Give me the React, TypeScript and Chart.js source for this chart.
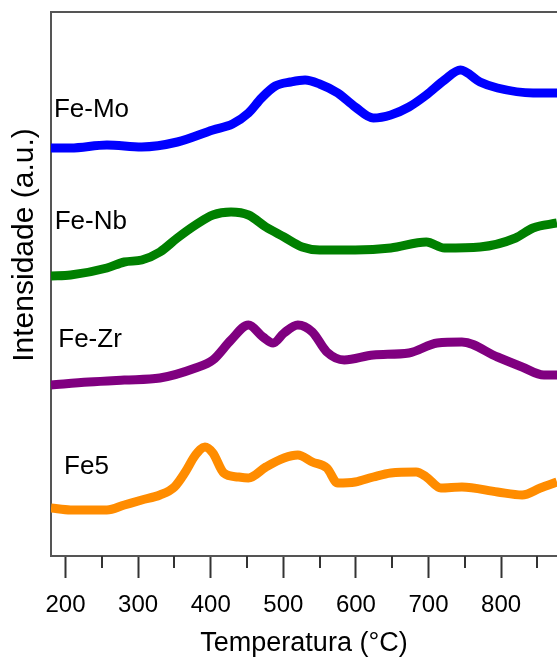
import { useEffect, useRef } from 'react';
import { Chart, registerables } from 'chart.js';

Chart.register(...registerables);

// Temperature (°C) and intensity (a.u.)
const tempMo = [180, 207, 257, 305, 354, 403, 430, 452, 470, 489, 510, 530, 550, 575, 599, 624, 648, 673, 697, 722, 744, 771, 795, 844, 877];
const feMo = [408, 408, 411, 409, 414, 426, 432, 443, 458, 470, 474, 476, 472, 463, 449, 438, 441, 449, 461, 476, 486, 474, 468, 463, 463];

const tempNb = [180, 207, 257, 281, 305, 330, 354, 379, 403, 428, 452, 476, 501, 526, 550, 599, 648, 697, 722, 771, 820, 844, 877];
const feNb = [280, 281, 288, 294, 296, 304, 318, 331, 341, 344, 341, 329, 319, 309, 306, 306, 308, 314, 308, 309, 318, 328, 333];

const tempZr = [180, 232, 281, 330, 379, 403, 428, 452, 472, 486, 501, 520, 540, 560, 584, 624, 673, 712, 746, 795, 829, 859, 877];
const feZr = [171, 174, 176, 178, 188, 196, 216, 231, 219, 213, 223, 231, 224, 204, 196, 201, 203, 213, 214, 199, 189, 181, 181];

const tempFe5 = [180, 207, 257, 281, 305, 330, 350, 365, 379, 392, 403, 418, 438, 452, 476, 501, 520, 540, 560, 575, 599, 624, 648, 683, 697, 717, 746, 795, 829, 854, 877];
const fe5 = [48, 46, 46, 51, 56, 61, 69, 84, 101, 109, 103, 83, 79, 78, 89, 98, 101, 94, 88, 73, 74, 79, 83, 84, 79, 68, 69, 64, 61, 68, 74];

const seriesNames = ['Fe-Mo', 'Fe-Nb', 'Fe-Zr', 'Fe5'];
const seriesColors = ['#0000ff', '#008000', '#800080', '#ff8c00'];
// label anchors in data coordinates (temperature, intensity)
const labelTemps = [184, 185, 190, 198];
const labelValues = [439, 327, 209, 82];

const majorTicks = [200, 300, 400, 500, 600, 700, 800];
const minorTicks = [250, 350, 450, 550, 650, 750, 850];
const xTitle = 'Temperatura (°C)';
const yTitle = 'Intensidade (a.u.)';

const FONT = '"Liberation Sans", Arial, sans-serif';

function pts(xs: number[], ys: number[]) {
  return xs.map((x, i) => ({ x, y: ys[i] }));
}

const framePlugin = {
  id: 'frameAndLabels',
  afterDraw(chart: any) {
    const { ctx, chartArea, scales } = chart;
    const xs = scales.x;
    const ys = scales.y;
    ctx.save();
    // top border
    ctx.strokeStyle = '#555555';
    ctx.lineWidth = 2;
    ctx.beginPath();
    ctx.moveTo(chartArea.left - 1, chartArea.top);
    ctx.lineTo(chartArea.right, chartArea.top);
    ctx.stroke();
    // minor ticks
    ctx.strokeStyle = '#333333';
    ctx.lineWidth = 2;
    minorTicks.forEach((v) => {
      const px = Math.round(xs.getPixelForValue(v));
      ctx.beginPath();
      ctx.moveTo(px, chartArea.bottom);
      ctx.lineTo(px, chartArea.bottom + 12);
      ctx.stroke();
    });
    // series labels
    ctx.fillStyle = '#000000';
    ctx.font = `26px ${FONT}`;
    ctx.textAlign = 'left';
    ctx.textBaseline = 'alphabetic';
    seriesNames.forEach((name, i) => {
      ctx.fillText(name, xs.getPixelForValue(labelTemps[i]), ys.getPixelForValue(labelValues[i]));
    });
    // y title
    ctx.font = `30px ${FONT}`;
    ctx.textAlign = 'center';
    ctx.translate(33, 245);
    ctx.rotate(-Math.PI / 2);
    ctx.fillText(yTitle, 0, 0);
    ctx.restore();
  },
};

export default function App() {
  const ref = useRef<HTMLCanvasElement | null>(null);
  useEffect(() => {
    if (!ref.current) return;
    const datasets = [feMo, feNb, feZr, fe5].map((vals, i) => ({
      label: seriesNames[i],
      data: pts([tempMo, tempNb, tempZr, tempFe5][i], vals),
      borderColor: seriesColors[i],
      backgroundColor: seriesColors[i],
      borderWidth: 9,
      pointRadius: 0,
      tension: 0.4,
      cubicInterpolationMode: 'monotone' as const,
    }));
    const chart = new Chart(ref.current, {
      type: 'line',
      data: { datasets },
      options: {
        animation: false,
        responsive: true,
        maintainAspectRatio: false,
        layout: { padding: { left: 31, top: 12, right: 0, bottom: 0 } },
        plugins: { legend: { display: false }, tooltip: { enabled: false } },
        scales: {
          x: {
            type: 'linear',
            min: 180,
            max: 877,
            afterBuildTicks: (scale: any) => {
              scale.ticks = majorTicks.map((v) => ({ value: v }));
            },
            afterFit: (scale: any) => {
              scale.height = 101;
            },
            ticks: {
              color: '#000000',
              font: { family: FONT, size: 24 },
              padding: 13,
              maxRotation: 0,
              autoSkip: false,
            },
            grid: {
              display: true,
              drawOnChartArea: false,
              drawTicks: true,
              tickLength: 22,
              tickWidth: 2,
              tickColor: '#333333',
            },
            border: { display: true, color: '#555555', width: 2 },
            title: {
              display: true,
              text: xTitle,
              color: '#000000',
              font: { family: FONT, size: 27, lineHeight: 1 },
              padding: { top: 0, bottom: 0 },
            },
          },
          y: {
            type: 'linear',
            min: 0,
            max: 544,
            afterFit: (scale: any) => {
              scale.width = 20;
            },
            ticks: { display: false },
            grid: { display: false },
            border: { display: true, color: '#555555', width: 2 },
          },
        },
      },
      plugins: [framePlugin],
    });
    return () => chart.destroy();
  }, []);
  return (
    <div style={{ position: 'absolute', left: 0, top: 0, width: 557, height: 657, overflow: 'hidden', background: '#ffffff' }}>
      <canvas ref={ref} />
    </div>
  );
}
